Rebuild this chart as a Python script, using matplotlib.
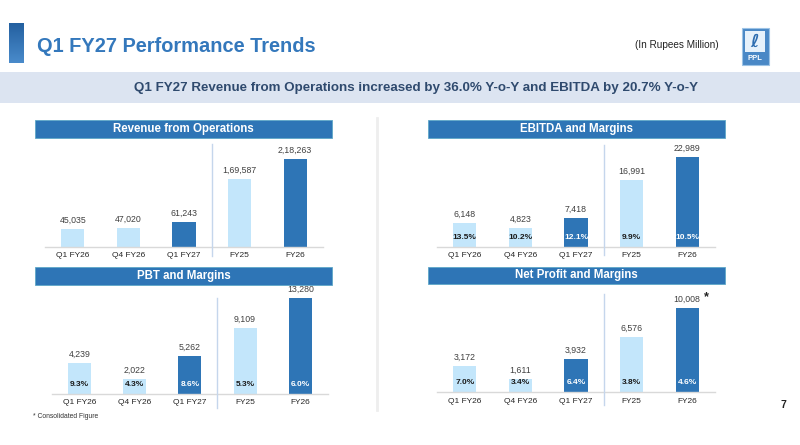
import matplotlib
matplotlib.use("Agg")
import matplotlib.pyplot as plt
from matplotlib.patches import Rectangle
from matplotlib.lines import Line2D
from matplotlib.colors import LinearSegmentedColormap
import matplotlib.transforms as mtransforms
import numpy as np

plt.rcParams['font.family'] = ['Liberation Sans', 'DejaVu Sans']

# ---------------- data ----------------
categories = ["Q1 FY26", "Q4 FY26", "Q1 FY27", "FY25", "FY26"]
revenue = [45035, 47020, 61243, 169587, 218263]
ebitda = [6148, 4823, 7418, 16991, 22989]
ebitda_margin = [13.5, 10.2, 12.1, 9.9, 10.5]
pbt = [4239, 2022, 5262, 9109, 13280]
pbt_margin = [9.3, 4.3, 8.6, 5.3, 6.0]
net_profit = [3172, 1611, 3932, 6576, 10008]
np_margin = [7.0, 3.4, 6.4, 3.8, 4.6]

title = "Q1 FY27 Performance Trends"
subtitle = "Q1 FY27 Revenue from Operations increased by 36.0% Y-o-Y and EBITDA by 20.7% Y-o-Y"
unit_note = "(In Rupees Million)"
footnote = "* Consolidated Figure"

# ---------------- style ----------------
W, H = 800, 445
DARK = "#2E75B6"
LIGHT = "#C3E6FB"
HEADER = "#2E75B6"
highlight = [False, False, True, False, True]

fig = plt.figure(figsize=(W / 100, H / 100), dpi=100)


def fx(px):
    return px / W


def fy(py):
    return 1 - py / H


def rect_px(x0, y0, x1, y1, **kw):
    r = Rectangle((fx(x0), fy(y1)), fx(x1) - fx(x0), fy(y0) - fy(y1),
                  transform=fig.transFigure, **kw)
    fig.add_artist(r)
    return r


def indian(n):
    s = str(int(n))
    if len(s) <= 3:
        return s
    last3 = s[-3:]
    rest = s[:-3]
    parts = []
    while len(rest) > 2:
        parts.insert(0, rest[-2:])
        rest = rest[:-2]
    if rest:
        parts.insert(0, rest)
    return ",".join(parts) + "," + last3


# ---------------- header ----------------
grad = np.linspace(0, 1, 100).reshape(-1, 1)
axg = fig.add_axes([fx(9), fy(63), fx(24) - fx(9), fy(23) - fy(63)])
cm = LinearSegmentedColormap.from_list("g", ["#2360A0", "#4A8BCB"])
axg.imshow(grad, aspect="auto", cmap=cm)
axg.axis("off")

fig.text(fx(37), fy(47), title, fontsize=14.4, fontweight="bold", color="#3478BC",
         ha="left", va="center")
fig.text(fx(677), fy(45), unit_note, fontsize=7.2, color="#222222",
         ha="center", va="center")

# logo
rect_px(741.5, 27.5, 768.5, 65, facecolor="#4A88C6", edgecolor="#9CC3E6", lw=0.8)
rect_px(745, 31, 765, 52, facecolor="#E6F1FB", edgecolor="none")
fig.text(fx(755), fy(41.5), "ℓ", fontsize=13, color="#2E6DB0", ha="center",
         va="center", family=["DejaVu Sans"], style="italic", fontweight="bold")
fig.text(fx(755), fy(58.5), "PPL", fontsize=5.5, color="white", ha="center",
         va="center", fontweight="bold")

# subtitle band
rect_px(0, 72, 800, 103, facecolor="#DCE4F1", edgecolor="none")
fig.text(fx(416), fy(88), subtitle, fontsize=9.65, fontweight="bold", color="#2F4A6E",
         ha="center", va="center")

# central separator
fig.add_artist(Line2D([fx(377.3), fx(377.3)], [fy(118), fy(410)],
                      transform=fig.transFigure, color="#EEEEEE", lw=2))

# ---------------- charts ----------------
panels = [
    ("Revenue from Operations", revenue, None, (35, 120, 332, 138), (45, 323), 247, 159.3, (144, 256)),
    ("EBITDA and Margins", ebitda, ebitda_margin, (428, 120.5, 725, 138), (437, 715), 247, 156.7, (145, 255)),
    ("PBT and Margins", pbt, pbt_margin, (35, 266.5, 332, 285), (51.7, 328), 394, 298.3, (297.7, 408)),
    ("Net Profit and Margins", net_profit, np_margin, (428, 266.5, 725, 283.5), (437, 715), 392.3, 308.3, (294, 405)),
]

for name, vals, margins, hb, (xl, xr), base, maxtop, (dv0, dv1) in panels:
    rect_px(hb[0], hb[1], hb[2], hb[3], facecolor=HEADER, edgecolor="#5FA8C8", lw=0.6)
    fig.text(fx((hb[0] + hb[2]) / 2), fy((hb[1] + hb[3]) / 2), name, fontsize=8.3,
             fontweight="bold", color="white", ha="center", va="center")

    top = base - 100
    ax = fig.add_axes([fx(xl), fy(base), fx(xr) - fx(xl), fy(top) - fy(base)])
    ymax = max(vals) * (base - top) / (base - maxtop)
    x = np.arange(len(categories))
    colors = [DARK if h else LIGHT for h in highlight]
    ax.bar(x, vals, width=0.42, color=colors, zorder=2)
    ax.set_xlim(-0.5, len(categories) - 0.5)
    ax.set_ylim(0, ymax)
    for s in ["top", "right", "left"]:
        ax.spines[s].set_visible(False)
    ax.spines["bottom"].set_color("#D9D9D9")
    ax.spines["bottom"].set_linewidth(1)
    ax.set_yticks([])
    ax.set_xticks(x)
    ax.set_xticklabels(categories, fontsize=6, color="#262626")
    ax.tick_params(axis="x", length=0, pad=3.8)
    ax.patch.set_alpha(0)

    for i, v in enumerate(vals):
        ax.annotate(indian(v), (i, v), xytext=(0, 3), textcoords="offset points",
                    ha="center", va="bottom", fontsize=6.3, color="#404040")
    if margins is not None:
        for i, m in enumerate(margins):
            ax.annotate(f"{m:.1f}%", (i, 0), xytext=(0, 6.8), textcoords="offset points",
                        ha="center", va="center", fontsize=6, fontweight="bold",
                        color="white" if highlight[i] else "#1A1A1A")

    trans = mtransforms.blended_transform_factory(ax.transData, fig.transFigure)
    fig.add_artist(Line2D([2.5, 2.5], [fy(dv0), fy(dv1)], transform=trans,
                          color="#C5D6EC", lw=1))

    if name.startswith("Net Profit"):
        ax.annotate("*", (4, vals[4]), xytext=(14, 8), textcoords="offset points",
                    ha="center", va="center", fontsize=9, fontweight="bold", color="#222222")

fig.text(fx(33), fy(416.7), footnote, fontsize=4.9, color="#333333", ha="left", va="center")
fig.text(fx(783.3), fy(405), "7", fontsize=7.5, fontweight="bold", color="#222222",
         ha="center", va="center")

fig.savefig("out.png", dpi=100)
